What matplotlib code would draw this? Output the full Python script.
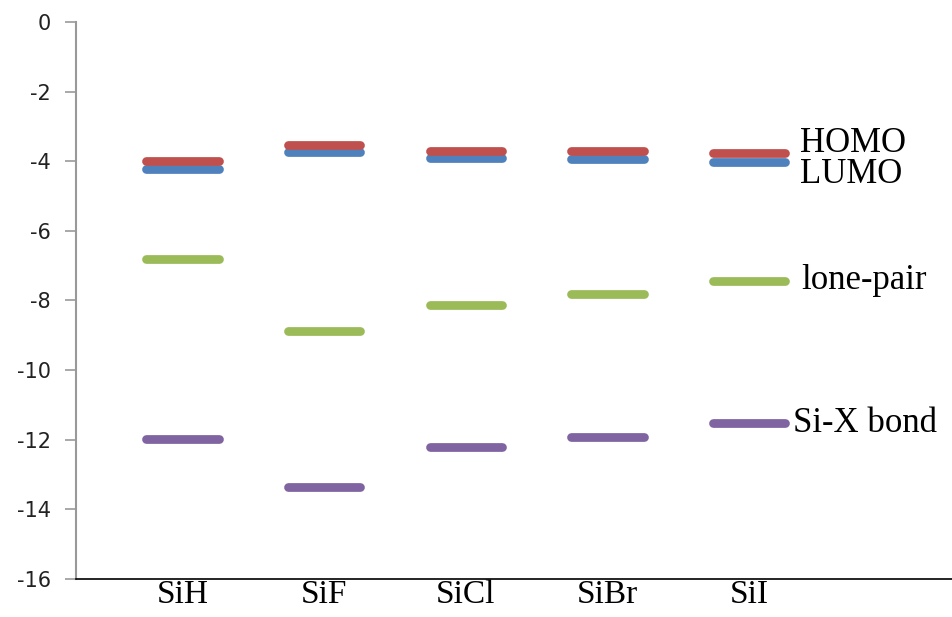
import numpy as np
import matplotlib.pyplot as plt

# values (eV)
molecules = ['SiH', 'SiF', 'SiCl', 'SiBr', 'SiI']
homo = [-4.0, -3.52, -3.71, -3.71, -3.76]
lumo = [-4.21, -3.74, -3.92, -3.95, -4.03]
lone_pair = [-6.81, -8.88, -8.13, -7.83, -7.43]
si_x_bond = [-11.98, -13.37, -12.20, -11.92, -11.53]

series = [
    (homo, '#C0504D', 'HOMO', -3.5, 0.36),
    (lumo, '#4F81BD', 'LUMO', -4.38, 0.36),
    (lone_pair, '#9BBB59', 'lone-pair', -7.44, 0.37),
    (si_x_bond, '#8064A2', 'Si-X bond', -11.53, 0.31),
]

fig = plt.figure(figsize=(9.53, 6.17), dpi=100)
ax = fig.add_axes([0.0797, 0.062, 0.9203, 0.9023])

x = np.arange(len(molecules))
half = 0.255
# blue goes under red so draw lumo first
for vals, col, name, ty, dx in [series[1], series[0], series[2], series[3]]:
    lc = ax.hlines(vals, x - half, x + half, colors=col, linewidth=6.3)
    lc.set_capstyle('round')

for vals, col, name, ty, dx in series:
    ax.text(x[-1] + dx, ty, name, fontsize=25, family='Liberation Serif',
            va='center', ha='left', color='black')

ax.set_xlim(-0.752, 5.44)
ax.set_ylim(-16, 0)
ax.set_yticks(np.arange(-16, 1, 2))
ax.set_yticklabels([str(v) for v in range(-16, 1, 2)], fontsize=15, color='#222222')
ax.set_xticks(x)
ax.set_xticklabels(molecules, fontsize=24, family='Liberation Serif')

ax.tick_params(axis='y', direction='out', length=8, width=1.2, color='#999999', pad=10)
ax.tick_params(axis='x', length=0, pad=0.5)

ax.spines['top'].set_visible(False)
ax.spines['right'].set_visible(False)
ax.spines['left'].set_color('#999999')
ax.spines['left'].set_linewidth(1.5)
ax.spines['bottom'].set_color('black')
ax.spines['bottom'].set_linewidth(1.2)

fig.savefig('out.png', dpi=100)
